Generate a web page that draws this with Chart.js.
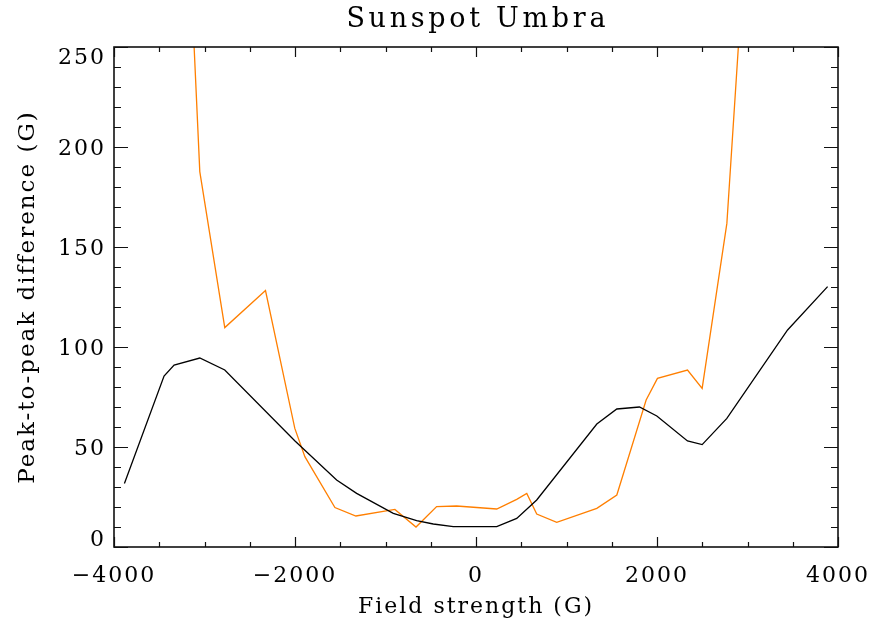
<!DOCTYPE html>
<html>
<head>
<meta charset="utf-8">
<title>Sunspot Umbra</title>
<script src="https://cdn.jsdelivr.net/npm/chart.js@4/dist/chart.umd.min.js"></script>
<style>
    html, body { margin: 0; padding: 0; background: #fff; }
    #wrap { width: 872px; height: 622px; }
</style>
</head>
<body>
<div id="wrap"><canvas id="umbraChart" width="872" height="622"></canvas></div>
<script>
// values
const titleText = 'Sunspot Umbra';
const xTitle = 'Field strength (G)';
const yTitle = 'Peak-to-peak difference (G)';

const blackField = [-3885, -3447, -3336, -3052, -2776, -2000, -1540, -1319, -914, -656, -472, -251, 229, 450, 671, 1335, 1556, 1806, 1998, 2337, 2499, 2772, 3443, 3885];
const blackDiff = [31.8, 85.5, 91, 94.5, 88.5, 53, 33.5, 26.8, 16.8, 13.2, 11.5, 10.2, 10.2, 14.3, 23.5, 61.5, 69, 70, 65.5, 53, 51.2, 64.3, 108.5, 130.2];

// orange goes off the top of the plot at both ends
const orangeField = [-3336, -3052, -2776, -2326, -2002, -1891, -1559, -1327, -896, -663, -435, -214, 229, 450, 561, 671, 892, 1335, 1556, 1880, 2005, 2337, 2499, 2772, 3050];
const orangeDiff = [470, 187.7, 109.7, 128.2, 59.3, 45.2, 19.7, 15.5, 18.8, 10, 20.2, 20.5, 19, 23.8, 26.8, 16.5, 12.3, 19.3, 26, 73.5, 84.3, 88.5, 79.3, 161.8, 355];

const xMin = -4000, xMax = 4000, xStep = 500, xMajor = 2000;
const yMin = 0, yMax = 250, yStep = 10, yMajor = 50;

const toPoints = (xs, ys) => xs.map((x, i) => ({ x: x, y: ys[i] }));

const fmtTick = (v) => v < 0 ? '\u2212' + Math.abs(v) : String(v);

// no extra room for overflowing end labels, the layout padding handles it
const noOverflow = (scale) => {
    scale.paddingLeft = 0;
    scale.paddingRight = 0;
    scale.paddingTop = 0;
    scale.paddingBottom = 0;
};

// IDL style: closed box, ticks pointing inwards on all four sides
const idlAxes = {
    id: 'idlAxes',
    beforeUpdate(chart) { chart.ctx.letterSpacing = '2px'; },
    beforeDraw(chart) { chart.ctx.letterSpacing = '2px'; },
    afterDraw(chart) {
        const { ctx, chartArea: a, scales } = chart;
        ctx.save();
        ctx.strokeStyle = '#111';
        ctx.lineWidth = 1.2;
        ctx.beginPath();
        scales.x.ticks.forEach(t => {
            const px = Math.round(scales.x.getPixelForValue(t.value)) + 0.5;
            const len = t.value % xMajor === 0 ? 10 : 5;
            ctx.moveTo(px, a.bottom); ctx.lineTo(px, a.bottom - len);
            ctx.moveTo(px, a.top); ctx.lineTo(px, a.top + len);
        });
        scales.y.ticks.forEach(t => {
            const py = Math.round(scales.y.getPixelForValue(t.value)) + 0.5;
            const len = t.value % yMajor === 0 ? 14 : 7;
            ctx.moveTo(a.left, py); ctx.lineTo(a.left + len, py);
            ctx.moveTo(a.right, py); ctx.lineTo(a.right - len, py);
        });
        ctx.stroke();

        ctx.lineWidth = 1.6;
        ctx.strokeRect(a.left, a.top, a.right - a.left, a.bottom - a.top);

        ctx.fillStyle = '#000';
        ctx.font = '27px "DejaVu Serif"';
        ctx.letterSpacing = '3.7px';
        ctx.textAlign = 'center';
        ctx.textBaseline = 'middle';
        ctx.fillText(titleText, (a.left + a.right) / 2 + 1.8, 20);
        ctx.restore();
    }
};

const tickFont = { family: 'DejaVu Serif', size: 22, lineHeight: 0.8 };

new Chart(document.getElementById('umbraChart'), {
    type: 'line',
    data: {
        datasets: [
            {
                data: toPoints(blackField, blackDiff),
                borderColor: '#000',
                borderWidth: 1.3,
                pointRadius: 0,
                tension: 0
            },
            {
                data: toPoints(orangeField, orangeDiff),
                borderColor: '#ff7f00',
                borderWidth: 1.3,
                pointRadius: 0,
                tension: 0
            }
        ]
    },
    options: {
        responsive: false,
        animation: false,
        layout: { padding: { top: 47, right: 34, left: 0, bottom: 0 } },
        plugins: {
            legend: { display: false },
            title: { display: false },
            tooltip: { enabled: false }
        },
        scales: {
            x: {
                type: 'linear',
                min: xMin,
                max: xMax,
                grid: { display: false, drawTicks: false },
                border: { display: false },
                ticks: {
                    stepSize: xStep,
                    autoSkip: false,
                    maxRotation: 0,
                    padding: 20,
                    color: '#000',
                    font: tickFont,
                    callback: (v) => v % xMajor === 0 ? fmtTick(v) : ''
                },
                title: {
                    display: true,
                    text: xTitle,
                    color: '#000',
                    font: { family: 'DejaVu Serif', size: 22, lineHeight: 1.2 },
                    padding: { top: 0, bottom: 1.5 }
                },
                afterFit: (scale) => { scale.height = 75; noOverflow(scale); }
            },
            y: {
                type: 'linear',
                min: yMin,
                max: yMax,
                grid: { display: false, drawTicks: false },
                border: { display: false },
                ticks: {
                    stepSize: yStep,
                    autoSkip: false,
                    padding: 8,
                    labelOffset: 2,
                    color: '#000',
                    font: tickFont,
                    callback: (v) => {
                        if (v % yMajor !== 0) return '';
                        if (v === yMax) return ['', fmtTick(v)];
                        if (v === yMin) return [fmtTick(v), ''];
                        return fmtTick(v);
                    }
                },
                title: {
                    display: true,
                    text: yTitle,
                    color: '#000',
                    font: { family: 'DejaVu Serif', size: 23, lineHeight: 1.2 },
                    padding: { top: 14, bottom: 0 }
                },
                afterFit: (scale) => { scale.width = 114; noOverflow(scale); }
            }
        }
    },
    plugins: [idlAxes]
});
</script>
</body>
</html>
